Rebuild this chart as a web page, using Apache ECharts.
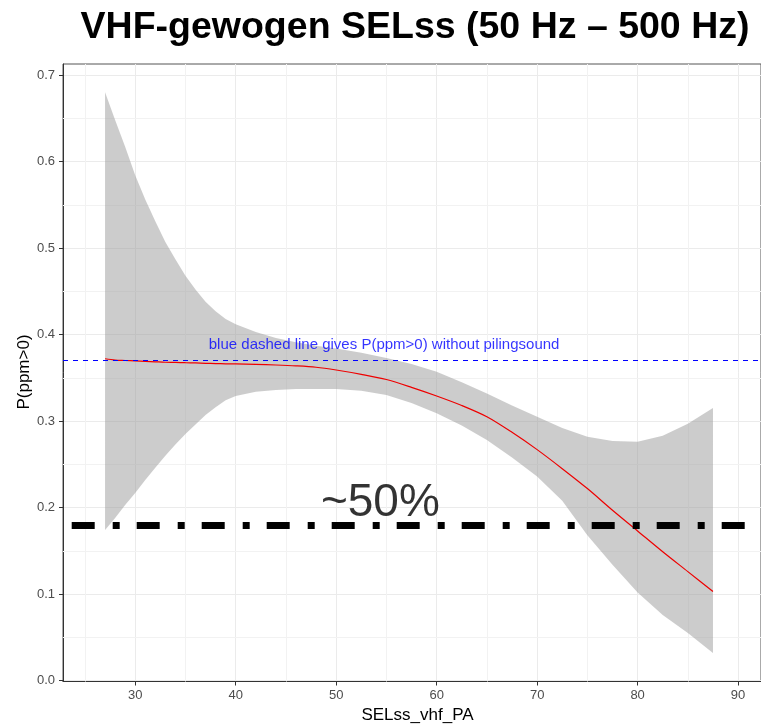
<!DOCTYPE html>
<html>
<head>
<meta charset="utf-8">
<script src="https://cdn.jsdelivr.net/npm/echarts@6/dist/echarts.min.js"></script>
<style>
  html, body { margin: 0; padding: 0; background: #fff; }
  #chart { width: 761px; height: 725px; }
</style>
</head>
<body>
<div id="chart"></div>
<script>
// Smoothed probability curve with its confidence band
const selValues = [27, 28, 29, 30, 31, 32, 33, 34, 35, 36, 37, 38, 39, 40, 42, 44, 46, 48, 50,
  52.5, 55, 57.5, 60, 62.5, 65, 67.5, 70, 72.5, 75, 77.5, 80, 82.5, 85, 87.5];
const fitP = [0.372, 0.3705, 0.370, 0.3695, 0.369, 0.3685, 0.368, 0.3678, 0.3675, 0.3672, 0.3668,
  0.3665, 0.3662, 0.366, 0.3655, 0.3648, 0.3638, 0.3622, 0.359, 0.354, 0.348, 0.339, 0.329, 0.318,
  0.305, 0.287, 0.267, 0.245, 0.222, 0.197, 0.173, 0.149, 0.126, 0.103];
const upperP = [0.680, 0.648, 0.617, 0.584, 0.556, 0.531, 0.507, 0.487, 0.468, 0.452, 0.438, 0.427,
  0.418, 0.412, 0.403, 0.396, 0.391, 0.387, 0.384, 0.379, 0.373, 0.366, 0.357, 0.345, 0.332, 0.318,
  0.305, 0.292, 0.282, 0.277, 0.276, 0.283, 0.297, 0.315];
const lowerP = [0.174, 0.188, 0.203, 0.217, 0.232, 0.246, 0.260, 0.273, 0.285, 0.296, 0.307, 0.316,
  0.324, 0.329, 0.334, 0.336, 0.337, 0.337, 0.337, 0.335, 0.330, 0.321, 0.309, 0.295, 0.278, 0.258,
  0.236, 0.208, 0.168, 0.134, 0.102, 0.076, 0.055, 0.032];

// Reference levels
const baselineP = 0.37;   // P(ppm>0) without piling sound
const halfLevelP = 0.181; // ~50 % level

// Axis ticks
const xTicks = [30, 40, 50, 60, 70, 80, 90];
const yTicks = [0, 0.1, 0.2, 0.3, 0.4, 0.5, 0.6, 0.7];

// Text annotations (data coordinates)
const noteTexts = ['blue dashed line gives P(ppm>0) without pilingsound', '~50%'];
const noteX = [54.77, 54.4];
const noteY = [0.388, 0.205];

const FONT = '"Liberation Sans", Arial, sans-serif';

const midpoints = (t) => {
  const out = [t[0] - (t[1] - t[0]) / 2];
  for (let i = 0; i < t.length - 1; i++) out.push((t[i] + t[i + 1]) / 2);
  return out;
};
const minorX = midpoints(xTicks);
const minorY = midpoints(yTicks).filter(v => v > 0);

const chart = echarts.init(document.getElementById('chart'), null, { renderer: 'canvas' });

// Confidence band: upper edge left to right, lower edge back right to left
function renderBand(params, api) {
  const pts = [];
  for (let i = 0; i < selValues.length; i++) pts.push(api.coord([selValues[i], upperP[i]]));
  for (let i = selValues.length - 1; i >= 0; i--) pts.push(api.coord([selValues[i], lowerP[i]]));
  return {
    type: 'polygon',
    shape: { points: pts },
    style: { fill: 'rgba(153,153,153,0.5)', stroke: 'none' }
  };
}

const option = {
  animation: false,
  backgroundColor: '#ffffff',
  grid: {
    left: 63, top: 64, right: -1, bottom: 43.5,
    show: true, borderColor: '#555555', borderWidth: 1, backgroundColor: '#ffffff'
  },
  xAxis: {
    type: 'value', min: 22.815, max: 92.28,
    axisLine: { show: true, onZero: false, lineStyle: { color: '#333333', width: 1 } },
    axisTick: { show: true, customValues: xTicks, length: 4, lineStyle: { color: '#333333' } },
    axisLabel: { customValues: xTicks, color: '#4d4d4d', fontSize: 13, margin: 7, fontFamily: FONT },
    splitLine: { show: true, lineStyle: { color: '#ebebeb', width: 1 } }
  },
  yAxis: {
    type: 'value', min: -0.001, max: 0.7127,
    axisLine: { show: true, onZero: false, lineStyle: { color: '#333333', width: 1 } },
    axisTick: { show: true, customValues: yTicks, length: 4, lineStyle: { color: '#333333' } },
    axisLabel: {
      customValues: yTicks, color: '#4d4d4d', fontSize: 13, margin: 8, fontFamily: FONT,
      formatter: v => v.toFixed(1)
    },
    splitLine: { show: true, lineStyle: { color: '#ebebeb', width: 1 } }
  },
  graphic: [
    {
      type: 'text', x: 415, y: 28, silent: true,
      style: {
        text: 'VHF-gewogen SELss (50 Hz \u2013 500 Hz)',
        font: 'bold 37.5px ' + FONT, fill: '#000000',
        textAlign: 'center', textVerticalAlign: 'middle'
      }
    },
    {
      type: 'text', x: 417.5, y: 715, silent: true,
      style: {
        text: 'SELss_vhf_PA', font: '17px ' + FONT, fill: '#000000',
        textAlign: 'center', textVerticalAlign: 'middle'
      }
    },
    {
      type: 'text', x: 24, y: 372, rotation: Math.PI / 2, silent: true,
      style: {
        text: 'P(ppm>0)', font: '17px ' + FONT, fill: '#000000',
        textAlign: 'center', textVerticalAlign: 'middle'
      }
    }
  ],
  series: [
    {
      // minor grid
      type: 'line', data: [], z: 1, silent: true,
      markLine: {
        z: 1, silent: true, symbol: ['none', 'none'], label: { show: false },
        lineStyle: { color: '#f2f2f2', width: 1, type: 'solid' },
        data: minorX.map(v => ({ xAxis: v })).concat(minorY.map(v => ({ yAxis: v })))
      }
    },
    {
      name: 'band', type: 'custom', z: 2, silent: true,
      renderItem: renderBand,
      data: [0]
    },
    {
      name: 'fit', type: 'line', z: 3, silent: true, symbol: 'none', smooth: 0.3,
      lineStyle: { color: '#ee0000', width: 1.2 },
      data: selValues.map((x, i) => [x, fitP[i]])
    },
    {
      type: 'line', data: [], z: 4, silent: true,
      markLine: {
        z: 4, silent: true, symbol: ['none', 'none'], label: { show: false },
        data: [
          { yAxis: baselineP, lineStyle: { color: '#0000ff', width: 1, type: [5, 5] } },
          { yAxis: halfLevelP, lineStyle: { color: '#000000', width: 7, type: [23, 18, 7, 17], dashOffset: 56.3, cap: 'butt' } }
        ]
      }
    },
    {
      type: 'scatter', z: 5, silent: true, symbolSize: 1,
      itemStyle: { color: 'rgba(0,0,0,0)' },
      data: [
        { value: [noteX[0], noteY[0]], label: { formatter: noteTexts[0], color: '#0000ff', fontSize: 15 } },
        { value: [noteX[1], noteY[1]], label: { formatter: noteTexts[1], color: '#000000', fontSize: 46 } }
      ],
      label: { show: true, position: 'inside', fontFamily: FONT }
    }
  ]
};

chart.setOption(option);
</script>
</body>
</html>
